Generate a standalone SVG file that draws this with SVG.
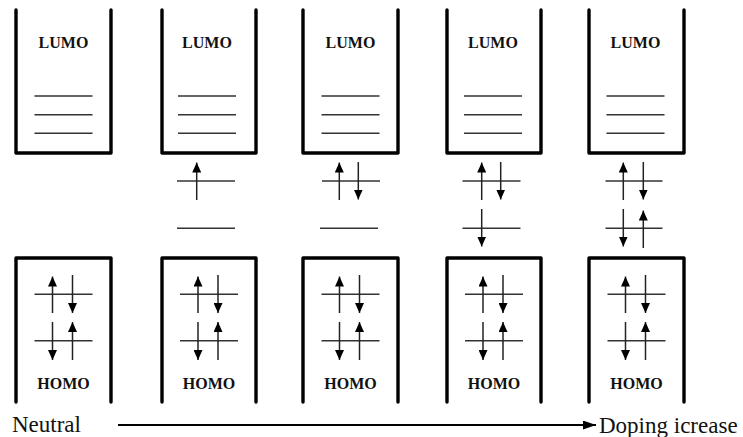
<svg xmlns="http://www.w3.org/2000/svg" width="743" height="437" viewBox="0 0 743 437">
<defs>
<marker id="ah" viewBox="0 0 10 9" refX="10" refY="4.5" markerUnits="userSpaceOnUse" markerWidth="10" markerHeight="9" orient="auto">
<path d="M0,0 L10,4.5 L0,9 z" fill="#000"/>
</marker>
<marker id="big" viewBox="0 0 13 9" refX="13" refY="4.5" markerUnits="userSpaceOnUse" markerWidth="13" markerHeight="9" orient="auto">
<path d="M0,0 L13,4.5 L0,9 z" fill="#000"/>
</marker>
</defs>
<style>
.box{fill:none;stroke:#000;stroke-width:3.4;stroke-linejoin:round;stroke-linecap:round}
.lv{stroke:#333;stroke-width:1.4}
.ar{stroke:#222;stroke-width:1.5;marker-end:url(#ah)}
.lbl{font-family:"Liberation Serif","Times New Roman",serif;font-weight:bold;font-size:16px;text-anchor:middle;fill:#111}
.cap{font-family:"Liberation Serif","Times New Roman",serif;font-size:23px;fill:#111}
</style>
<rect width="743" height="437" fill="#fff"/>

<!-- LUMO boxes -->
<g id="lumo1"><path class="box" d="M16,10 V153 H111 V10"/><text class="lbl" x="63.5" y="48">LUMO</text>
<line class="lv" x1="34.5" y1="96" x2="92.5" y2="96"/><line class="lv" x1="34.5" y1="114.7" x2="92.5" y2="114.7"/><line class="lv" x1="34.5" y1="133.3" x2="92.5" y2="133.3"/></g>
<g id="lumo2"><path class="box" d="M162,10 V153 H256 V10"/><text class="lbl" x="207" y="48">LUMO</text>
<line class="lv" x1="178" y1="96" x2="236" y2="96"/><line class="lv" x1="178" y1="114.7" x2="236" y2="114.7"/><line class="lv" x1="178" y1="133.3" x2="236" y2="133.3"/></g>
<g id="lumo3"><path class="box" d="M303,10 V153 H398 V10"/><text class="lbl" x="350.5" y="48">LUMO</text>
<line class="lv" x1="321.5" y1="96" x2="379.5" y2="96"/><line class="lv" x1="321.5" y1="114.7" x2="379.5" y2="114.7"/><line class="lv" x1="321.5" y1="133.3" x2="379.5" y2="133.3"/></g>
<g id="lumo4"><path class="box" d="M447,10 V153 H541 V10"/><text class="lbl" x="493" y="48">LUMO</text>
<line class="lv" x1="464" y1="96" x2="522" y2="96"/><line class="lv" x1="464" y1="114.7" x2="522" y2="114.7"/><line class="lv" x1="464" y1="133.3" x2="522" y2="133.3"/></g>
<g id="lumo5"><path class="box" d="M589,10 V153 H684 V10"/><text class="lbl" x="635.5" y="48">LUMO</text>
<line class="lv" x1="606.5" y1="96" x2="664.5" y2="96"/><line class="lv" x1="606.5" y1="114.7" x2="664.5" y2="114.7"/><line class="lv" x1="606.5" y1="133.3" x2="664.5" y2="133.3"/></g>

<!-- mid-gap levels -->
<g id="mid2">
<line class="lv" x1="177" y1="181" x2="235" y2="181"/><line class="ar" x1="196.7" y1="200" x2="196.7" y2="162.5"/>
<line class="lv" x1="177" y1="228.3" x2="235" y2="228.3"/></g>
<g id="mid3">
<line class="lv" x1="322" y1="181" x2="380" y2="181"/><line class="ar" x1="339.3" y1="200" x2="339.3" y2="162.5"/><line class="ar" x1="358.3" y1="162" x2="358.3" y2="199.5"/>
<line class="lv" x1="320" y1="228.3" x2="378" y2="228.3"/></g>
<g id="mid4">
<line class="lv" x1="462.5" y1="181" x2="520.5" y2="181"/><line class="ar" x1="481.7" y1="200" x2="481.7" y2="162.5"/><line class="ar" x1="500.7" y1="162" x2="500.7" y2="199.5"/>
<line class="lv" x1="462.5" y1="228.3" x2="520.5" y2="228.3"/><line class="ar" x1="481.7" y1="209" x2="481.7" y2="246.5"/></g>
<g id="mid5">
<line class="lv" x1="605.5" y1="181" x2="662.5" y2="181"/><line class="ar" x1="623.3" y1="200" x2="623.3" y2="162.5"/><line class="ar" x1="643.3" y1="162" x2="643.3" y2="199.5"/>
<line class="lv" x1="605.5" y1="228.3" x2="662.5" y2="228.3"/><line class="ar" x1="623.3" y1="209" x2="623.3" y2="246.5"/><line class="ar" x1="643.3" y1="248" x2="643.3" y2="210.5"/></g>

<!-- HOMO boxes -->
<g id="homo1"><path class="box" d="M16,402 V258 H111 V402"/><text class="lbl" x="63.5" y="389">HOMO</text>
<line class="lv" x1="34.5" y1="294.3" x2="92.5" y2="294.3"/><line class="lv" x1="34.5" y1="340.7" x2="92.5" y2="340.7"/>
<line class="ar" x1="52.5" y1="313" x2="52.5" y2="276.5"/><line class="ar" x1="72.5" y1="275" x2="72.5" y2="313"/>
<line class="ar" x1="52.5" y1="322" x2="52.5" y2="360"/><line class="ar" x1="72.5" y1="360" x2="72.5" y2="322"/></g>
<g id="homo2"><path class="box" d="M162,402 V258 H256 V402"/><text class="lbl" x="209" y="389">HOMO</text>
<line class="lv" x1="180" y1="294.3" x2="238" y2="294.3"/><line class="lv" x1="180" y1="340.7" x2="238" y2="340.7"/>
<line class="ar" x1="198" y1="313" x2="198" y2="276.5"/><line class="ar" x1="218" y1="275" x2="218" y2="313"/>
<line class="ar" x1="198" y1="322" x2="198" y2="360"/><line class="ar" x1="218" y1="360" x2="218" y2="322"/></g>
<g id="homo3"><path class="box" d="M303,402 V258 H398 V402"/><text class="lbl" x="350.5" y="389">HOMO</text>
<line class="lv" x1="321.5" y1="294.3" x2="379.5" y2="294.3"/><line class="lv" x1="321.5" y1="340.7" x2="379.5" y2="340.7"/>
<line class="ar" x1="339.5" y1="313" x2="339.5" y2="276.5"/><line class="ar" x1="359.5" y1="275" x2="359.5" y2="313"/>
<line class="ar" x1="339.5" y1="322" x2="339.5" y2="360"/><line class="ar" x1="359.5" y1="360" x2="359.5" y2="322"/></g>
<g id="homo4"><path class="box" d="M447,402 V258 H541 V402"/><text class="lbl" x="494" y="389">HOMO</text>
<line class="lv" x1="465" y1="294.3" x2="523" y2="294.3"/><line class="lv" x1="465" y1="340.7" x2="523" y2="340.7"/>
<line class="ar" x1="483" y1="313" x2="483" y2="276.5"/><line class="ar" x1="503" y1="275" x2="503" y2="313"/>
<line class="ar" x1="483" y1="322" x2="483" y2="360"/><line class="ar" x1="503" y1="360" x2="503" y2="322"/></g>
<g id="homo5"><path class="box" d="M589,402 V258 H684 V402"/><text class="lbl" x="636.5" y="389">HOMO</text>
<line class="lv" x1="607.5" y1="294.3" x2="665.5" y2="294.3"/><line class="lv" x1="607.5" y1="340.7" x2="665.5" y2="340.7"/>
<line class="ar" x1="625.5" y1="313" x2="625.5" y2="276.5"/><line class="ar" x1="645.5" y1="275" x2="645.5" y2="313"/>
<line class="ar" x1="625.5" y1="322" x2="625.5" y2="360"/><line class="ar" x1="645.5" y1="360" x2="645.5" y2="322"/></g>

<!-- captions and main arrow -->
<g id="neutral"><text class="cap" x="12" y="432">Neutral</text></g>
<g id="doping"><text class="cap" x="599" y="433">Doping icrease</text></g>
<g id="connectors">
<line x1="118" y1="425" x2="596" y2="425" stroke="#000" stroke-width="2" marker-end="url(#big)"/>
</g>
</svg>
